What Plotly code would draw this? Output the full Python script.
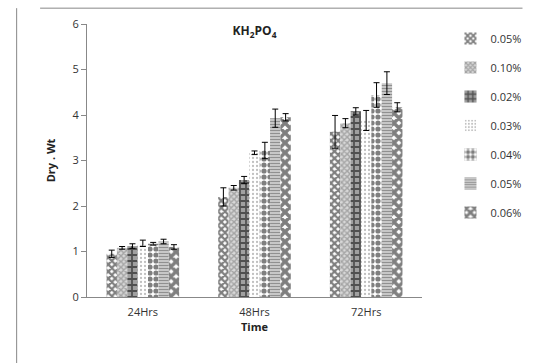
import plotly.graph_objects as go

categories = ["24Hrs", "48Hrs", "72Hrs"]
series_names = ["0.05%", "0.10%", "0.02%", "0.03%", "0.04%", "0.05% ", "0.06%"]
values = [
    [0.95, 2.20, 3.63],
    [1.08, 2.40, 3.82],
    [1.12, 2.57, 4.08],
    [1.18, 3.17, 3.88],
    [1.17, 3.22, 4.44],
    [1.22, 3.93, 4.70],
    [1.10, 3.95, 4.17],
]
errors = [
    [0.08, 0.20, 0.36],
    [0.03, 0.05, 0.10],
    [0.05, 0.08, 0.08],
    [0.07, 0.04, 0.22],
    [0.03, 0.18, 0.27],
    [0.05, 0.20, 0.25],
    [0.05, 0.08, 0.10],
]

patterns = [
    dict(shape="x", fgcolor="black", bgcolor="white", size=5, solidity=0.7),
    dict(shape="x", fgcolor="#707070", bgcolor="#d8d8d8", size=4, solidity=0.6),
    dict(shape="+", fgcolor="black", bgcolor="#a0a0a0", size=6, solidity=0.5),
    dict(shape=".", fgcolor="#808080", bgcolor="white", size=4, solidity=0.25),
    dict(shape=".", fgcolor="black", bgcolor="white", size=6, solidity=0.6),
    dict(shape="-", fgcolor="#404040", bgcolor="#e0e0e0", size=3, solidity=0.55),
    dict(shape="x", fgcolor="black", bgcolor="white", size=7, solidity=0.75),
]

fig = go.Figure()
for i, name in enumerate(series_names):
    fig.add_trace(go.Bar(
        x=categories, y=values[i], name=name,
        legendgroup=str(i),
        marker=dict(color="white", line=dict(width=0), pattern=patterns[i]),
        error_y=dict(type="data", array=errors[i], color="black", thickness=1, width=3),
    ))

fig.update_layout(
    width=541, height=363,
    margin=dict(l=87, r=88, t=24, b=66),
    paper_bgcolor="white", plot_bgcolor="white",
    barmode="group", bargap=0.35, bargroupgap=0,
    font=dict(family="Open Sans, DejaVu Sans, sans-serif", size=11, color="#333333"),
    title=dict(text="<b>KH<sub>2</sub>PO<sub>4</sub></b>", x=0.5, xref="paper",
               y=0.915, yanchor="middle", font=dict(size=12, color="#222222")),
    legend=dict(x=1.085, y=1.0, xanchor="left", yanchor="top", tracegroupgap=10,
                font=dict(size=11, color="#333333"), bgcolor="rgba(0,0,0,0)",
                itemwidth=30),
    xaxis=dict(showline=True, linecolor="#888888", ticks="", showgrid=False,
               ticklabelstandoff=5,
               title=dict(text="<b>Time</b>", font=dict(size=11, color="#222222"), standoff=3),
               tickfont=dict(size=11, color="#333333")),
    yaxis=dict(range=[0, 6], dtick=1, showline=True, linecolor="#888888", ticks="outside",
               ticklen=5, tickcolor="#888888", showgrid=False, zeroline=False,
               title=dict(text="<b>Dry . Wt</b>", font=dict(size=11, color="#222222"), standoff=14),
               tickfont=dict(size=11, color="#333333")),
    shapes=[
        dict(type="line", xref="paper", yref="paper", x0=-0.14, x1=1.3, y0=1.058, y1=1.058,
             line=dict(color="#888888", width=1)),
        dict(type="line", xref="paper", yref="paper", x0=-0.21, x1=-0.21, y0=1.058, y1=-0.3,
             line=dict(color="#888888", width=1)),
    ],
)

fig.write_html("out.html")
